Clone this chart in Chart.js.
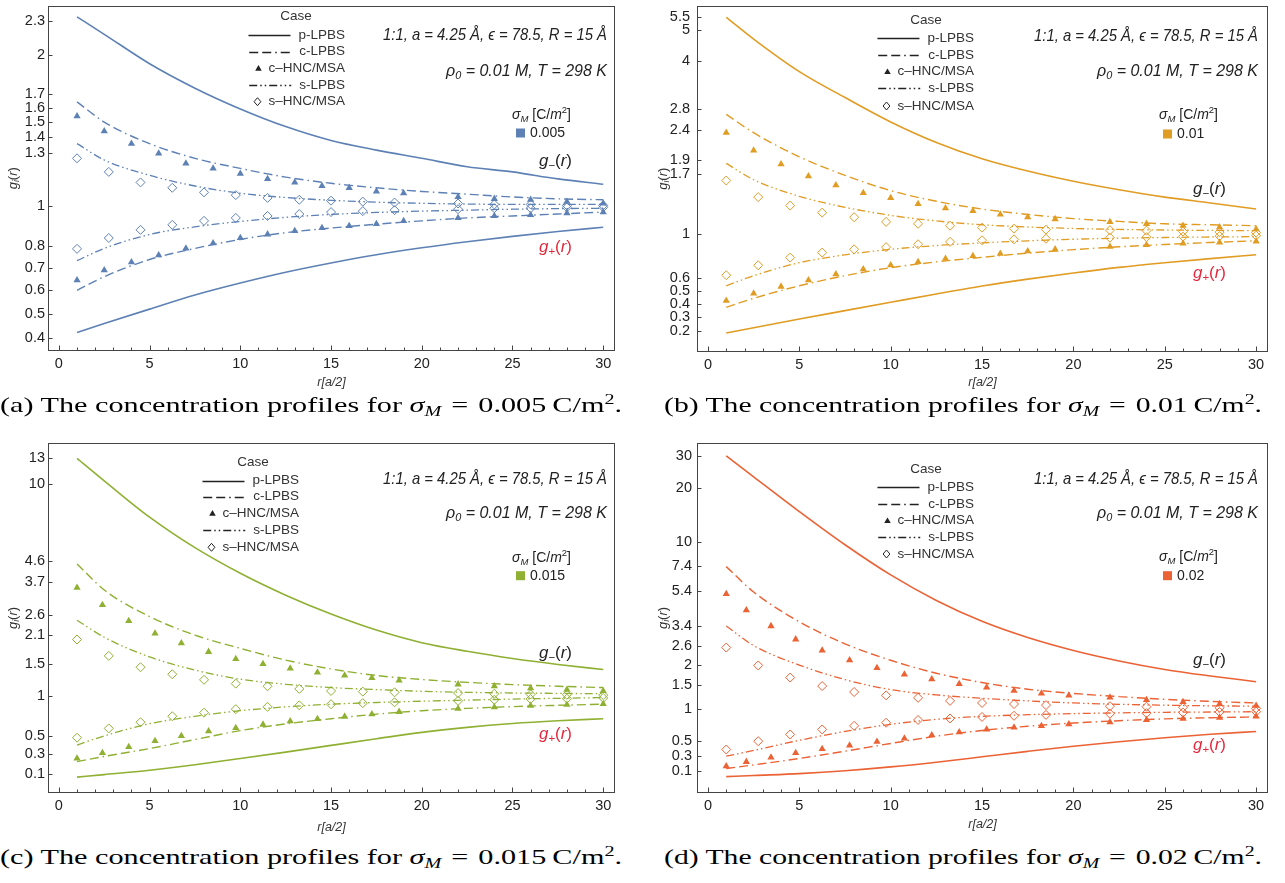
<!DOCTYPE html>
<html lang="en">
<head>
<meta charset="utf-8">
<title>Concentration profiles</title>
<script src="https://cdn.jsdelivr.net/npm/chart.js@4.4.1/dist/chart.umd.min.js"></script>
<style>
  html, body { margin: 0; padding: 0; background: #fff; }
  body { position: relative; width: 1285px; height: 883px; overflow: hidden; }
  canvas { position: absolute; }
  .cap { position: absolute; font-family: "Liberation Serif", "Times New Roman", serif; font-size: 21px; line-height: 24px;
         white-space: nowrap; color: #000; transform-origin: 0 50%; }
  .cap .m { font-style: italic; }
  .cap sub { font-size: 14px; line-height: 0; vertical-align: -4px; font-style: italic; }
  .cap sup { font-size: 14px; line-height: 0; vertical-align: 8px; }
</style>
</head>
<body>
<canvas id="panelA" width="640" height="400" style="left:0;top:0"></canvas>
<canvas id="panelB" width="645" height="400" style="left:640px;top:0"></canvas>
<canvas id="panelC" width="640" height="410" style="left:0;top:430px"></canvas>
<canvas id="panelD" width="645" height="410" style="left:640px;top:430px"></canvas>

<div class="cap" data-w="622" style="left:0;top:393px">(a) The concentration profiles for <span class="m">σ</span><sub>M</sub>&#8196;=&#8196;0.005&#8201;C/m<sup>2</sup>.</div>
<div class="cap" data-w="598" style="left:664px;top:393px">(b) The concentration profiles for <span class="m">σ</span><sub>M</sub>&#8196;=&#8196;0.01&#8201;C/m<sup>2</sup>.</div>
<div class="cap" data-w="622" style="left:0;top:845px">(c) The concentration profiles for <span class="m">σ</span><sub>M</sub>&#8196;=&#8196;0.015&#8201;C/m<sup>2</sup>.</div>
<div class="cap" data-w="598" style="left:664px;top:845px">(d) The concentration profiles for <span class="m">σ</span><sub>M</sub>&#8196;=&#8196;0.02&#8201;C/m<sup>2</sup>.</div>

<script>
// r positions (units of a/2) for the LPBS curves and the HNC/MSA samples
const rLine = [1, 2.5, 5, 7.5, 10, 12.5, 15, 17.5, 20, 22.5, 25, 27.5, 30];
const rTriAB = [1, 2.5, 4, 5.5, 7, 8.5, 10, 11.5, 13, 14.5, 16, 17.5, 19, 22, 24, 26, 28, 30];
const rTriC = [1, 2.4, 3.85, 5.3, 6.75, 8.25, 9.75, 11.25, 12.75, 14.25, 15.75, 17.25, 18.75, 22, 24, 26, 28, 30];
const rTriD = [1, 2.1, 3.45, 4.8, 6.25, 7.75, 9.25, 10.75, 12.25, 13.75, 15.25, 16.75, 18.25, 19.75, 22, 24, 26, 28, 30];
const rDia = [1, 2.75, 4.5, 6.25, 8, 9.75, 11.5, 13.25, 15, 16.75, 18.5, 22, 24, 26, 28, 30];
const xTicks = [0, 5, 10, 15, 20, 25, 30];

// sigma_M = 0.005 C/m^2
const yTicksA = [0.4, 0.5, 0.6, 0.7, 0.8, 1, 1.3, 1.4, 1.5, 1.6, 1.7, 2, 2.3];
const aPMinus = [2.34, 2.18, 1.93, 1.74, 1.59, 1.47, 1.38, 1.32, 1.27, 1.22, 1.19, 1.15, 1.12];
const aPPlus  = [0.424, 0.46, 0.52, 0.58, 0.632, 0.68, 0.722, 0.76, 0.793, 0.822, 0.848, 0.872, 0.893];
const aCMinus = [1.64, 1.50, 1.36, 1.27, 1.21, 1.16, 1.125, 1.10, 1.08, 1.065, 1.05, 1.04, 1.035];
const aCPlus  = [0.60, 0.66, 0.738, 0.79, 0.833, 0.866, 0.889, 0.908, 0.925, 0.94, 0.95, 0.96, 0.97];
const aSMinus = [1.36, 1.26, 1.17, 1.11, 1.07, 1.047, 1.032, 1.022, 1.016, 1.012, 1.01, 1.01, 1.01];
const aSPlus  = [0.733, 0.79, 0.857, 0.895, 0.922, 0.943, 0.958, 0.968, 0.975, 0.98, 0.985, 0.988, 0.99];
const aTriMinus = [1.54, 1.44, 1.36, 1.30, 1.24, 1.21, 1.18, 1.15, 1.13, 1.11, 1.10, 1.08, 1.07, 1.05, 1.04, 1.035, 1.025, 1.015];
const aTriPlus  = [0.645, 0.689, 0.726, 0.758, 0.79, 0.815, 0.84, 0.858, 0.875, 0.89, 0.90, 0.91, 0.925, 0.94, 0.95, 0.955, 0.965, 0.97];
const aDiaMinus = [1.27, 1.19, 1.13, 1.10, 1.075, 1.06, 1.045, 1.035, 1.03, 1.025, 1.02, 1.015, 1.01, 1.01, 1.005, 1.005];
const aDiaPlus  = [0.788, 0.84, 0.88, 0.905, 0.925, 0.94, 0.95, 0.96, 0.97, 0.975, 0.98, 0.985, 0.99, 0.99, 0.995, 0.995];

// sigma_M = 0.01 C/m^2
const yTicksB = [0.2, 0.3, 0.4, 0.5, 0.6, 1, 1.7, 1.9, 2.4, 2.8, 4, 5, 5.5];
const bPMinus = [5.47, 4.68, 3.70, 3.06, 2.55, 2.18, 1.92, 1.74, 1.60, 1.49, 1.40, 1.33, 1.26];
const bPPlus  = [0.184, 0.222, 0.285, 0.347, 0.41, 0.474, 0.536, 0.592, 0.643, 0.69, 0.73, 0.766, 0.80];
const bCMinus = [2.70, 2.35, 1.95, 1.68, 1.48, 1.35, 1.26, 1.20, 1.155, 1.125, 1.10, 1.09, 1.08];
const bCPlus  = [0.372, 0.44, 0.538, 0.62, 0.687, 0.737, 0.777, 0.815, 0.847, 0.873, 0.895, 0.914, 0.93];
const bSMinus = [1.85, 1.62, 1.41, 1.28, 1.19, 1.13, 1.09, 1.067, 1.052, 1.042, 1.036, 1.032, 1.03];
const bSPlus  = [0.538, 0.62, 0.73, 0.80, 0.85, 0.885, 0.91, 0.93, 0.945, 0.955, 0.962, 0.967, 0.97];
const bTriMinus = [2.35, 2.05, 1.84, 1.67, 1.55, 1.45, 1.39, 1.32, 1.27, 1.24, 1.20, 1.17, 1.15, 1.12, 1.10, 1.08, 1.065, 1.045];
const bTriPlus  = [0.422, 0.478, 0.532, 0.583, 0.632, 0.674, 0.708, 0.736, 0.765, 0.79, 0.81, 0.833, 0.85, 0.875, 0.89, 0.905, 0.915, 0.925];
const bDiaMinus = [1.61, 1.40, 1.30, 1.22, 1.17, 1.12, 1.10, 1.08, 1.06, 1.05, 1.04, 1.035, 1.03, 1.02, 1.015, 1.01];
const bDiaPlus  = [0.624, 0.708, 0.775, 0.82, 0.85, 0.87, 0.897, 0.92, 0.935, 0.944, 0.95, 0.96, 0.965, 0.97, 0.975, 0.98];

// sigma_M = 0.015 C/m^2
const yTicksC = [0.1, 0.3, 0.5, 1, 1.5, 2.1, 2.6, 3.7, 4.6, 10, 13];
const cPMinus = [12.9, 10.3, 7.15, 5.25, 4.04, 3.22, 2.64, 2.22, 1.93, 1.75, 1.61, 1.50, 1.41];
const cPPlus  = [0.07, 0.095, 0.139, 0.195, 0.258, 0.325, 0.396, 0.468, 0.54, 0.597, 0.642, 0.675, 0.70];
const cCMinus = [4.45, 3.4, 2.57, 2.1, 1.81, 1.58, 1.42, 1.31, 1.245, 1.2, 1.165, 1.14, 1.12];
const cCPlus  = [0.226, 0.28, 0.362, 0.46, 0.56, 0.638, 0.70, 0.757, 0.80, 0.83, 0.853, 0.87, 0.885];
const cSMinus = [2.47, 2.05, 1.64, 1.40, 1.25, 1.17, 1.12, 1.09, 1.065, 1.05, 1.04, 1.035, 1.03];
const cSPlus  = [0.40, 0.50, 0.64, 0.73, 0.80, 0.85, 0.885, 0.908, 0.925, 0.94, 0.955, 0.965, 0.975];
const cTriMinus = [3.48, 2.91, 2.45, 2.14, 1.92, 1.74, 1.60, 1.51, 1.43, 1.36, 1.31, 1.27, 1.23, 1.17, 1.14, 1.11, 1.09, 1.07];
const cTriPlus  = [0.26, 0.316, 0.38, 0.445, 0.50, 0.553, 0.591, 0.63, 0.67, 0.698, 0.727, 0.756, 0.786, 0.825, 0.845, 0.866, 0.88, 0.89];
const cDiaMinus = [2.00, 1.66, 1.45, 1.33, 1.24, 1.18, 1.14, 1.10, 1.07, 1.06, 1.05, 1.04, 1.03, 1.02, 1.015, 1.01];
const cDiaPlus  = [0.48, 0.585, 0.658, 0.731, 0.775, 0.82, 0.85, 0.87, 0.885, 0.90, 0.91, 0.93, 0.945, 0.955, 0.96, 0.97];

// sigma_M = 0.02 C/m^2
const yTicksD = [0.1, 0.3, 0.5, 1, 1.5, 2, 2.6, 3.4, 5.4, 7.4, 10, 20, 30];
const dPMinus = [30.0, 23.0, 14.8, 9.7, 6.6, 4.75, 3.62, 2.92, 2.45, 2.12, 1.88, 1.71, 1.57];
const dPPlus  = [0.03, 0.045, 0.069, 0.105, 0.154, 0.215, 0.285, 0.358, 0.428, 0.49, 0.548, 0.598, 0.64];
const dCMinus = [7.34, 5.3, 3.60, 2.68, 2.14, 1.78, 1.55, 1.40, 1.31, 1.245, 1.19, 1.15, 1.12];
const dCPlus  = [0.133, 0.18, 0.263, 0.36, 0.466, 0.57, 0.655, 0.72, 0.77, 0.808, 0.838, 0.857, 0.87];
const dSMinus = [3.40, 2.62, 2.00, 1.62, 1.39, 1.28, 1.21, 1.16, 1.12, 1.095, 1.078, 1.066, 1.06];
const dSPlus  = [0.293, 0.37, 0.51, 0.64, 0.75, 0.83, 0.88, 0.908, 0.927, 0.94, 0.95, 0.955, 0.96];
const dTriMinus = [5.17, 4.19, 3.40, 2.85, 2.45, 2.14, 1.92, 1.75, 1.63, 1.52, 1.44, 1.37, 1.31, 1.27, 1.23, 1.18, 1.14, 1.10, 1.07];
const dTriPlus  = [0.163, 0.22, 0.276, 0.338, 0.392, 0.44, 0.49, 0.536, 0.585, 0.63, 0.67, 0.70, 0.726, 0.753, 0.785, 0.82, 0.84, 0.86, 0.88];
const dDiaMinus = [2.55, 1.99, 1.67, 1.47, 1.34, 1.27, 1.22, 1.16, 1.12, 1.10, 1.08, 1.06, 1.05, 1.04, 1.03, 1.02];
const dDiaPlus  = [0.383, 0.498, 0.595, 0.67, 0.726, 0.775, 0.82, 0.845, 0.87, 0.89, 0.905, 0.925, 0.935, 0.945, 0.955, 0.96];

const FAMILY = '"Liberation Sans", Arial, sans-serif';
const dashC = [9, 4, 9, 4, 1.5, 4];          // long, long, dot
const dashS = [8, 3, 1.5, 3, 1.5, 3];        // dash, dot, dot

const caseRows = [
  { label: 'p-LPBS', kind: 'line', dash: [], width: 1.5 },
  { label: 'c-LPBS', kind: 'line', dash: dashC, width: 1.3 },
  { label: 'c–HNC/MSA', kind: 'triangle' },
  { label: 's-LPBS', kind: 'line', dash: dashS, width: 1.3 },
  { label: 's–HNC/MSA', kind: 'diamond' }
];

// y axis that behaves like log far from zero and linear near it
class AsinhScale extends Chart.Scale {
  determineDataLimits() {
    this.min = this.options.min;
    this.max = this.options.max;
  }
  buildTicks() { return []; }
  configure() {
    super.configure();
    this._aStart = Math.asinh(this.min);
    this._aSpan = Math.asinh(this.max) - this._aStart;
  }
  getLabelForValue(v) { return String(v); }
  getPixelForValue(v) {
    return this.getPixelForDecimal((Math.asinh(v) - this._aStart) / this._aSpan);
  }
  getValueForPixel(px) {
    return Math.sinh(this._aStart + this.getDecimalForPixel(px) * this._aSpan);
  }
}
AsinhScale.id = 'asinh';
AsinhScale.defaults = {};
Chart.register(AsinhScale);

// text made of runs: flags i = italic, b = subscript, p = superscript
function runs(ctx, parts, x, y, size, align, width) {
  const fontOf = f => (f.includes('i') ? 'italic ' : '') +
    ((f.includes('b') || f.includes('p')) ? size * 0.68 : size) + 'px ' + FAMILY;
  let total = 0;
  const ws = parts.map(([t, f]) => { ctx.font = fontOf(f); const m = ctx.measureText(t).width; total += m; return m; });
  const sx = width ? width / total : 1;
  const full = total * sx;
  const x0 = align === 'right' ? x - full : align === 'center' ? x - full / 2 : x;
  ctx.save();
  ctx.translate(x0, y);
  ctx.scale(sx, 1);
  ctx.textAlign = 'left';
  ctx.textBaseline = 'middle';
  let cx = 0;
  parts.forEach(([t, f], k) => {
    ctx.font = fontOf(f);
    const dy = f.includes('b') ? size * 0.3 : f.includes('p') ? -size * 0.32 : 0;
    ctx.fillText(t, cx, dy);
    cx += ws[k];
  });
  ctx.restore();
}

function triangle(ctx, x, y, r) {
  ctx.beginPath();
  ctx.moveTo(x, y - r);
  ctx.lineTo(x + r * 0.866, y + r * 0.5);
  ctx.lineTo(x - r * 0.866, y + r * 0.5);
  ctx.closePath();
  ctx.fill();
}

function diamond(ctx, x, y, r) {
  ctx.beginPath();
  ctx.moveTo(x, y - r);
  ctx.lineTo(x + r * 0.85, y);
  ctx.lineTo(x, y + r);
  ctx.lineTo(x - r * 0.85, y);
  ctx.closePath();
  ctx.stroke();
}

// frame, inward ticks, legend and the text labels inside each panel
function decor(p) {
  return {
    id: 'decor',
    afterDraw(chart) {
      const ctx = chart.ctx;
      const area = chart.chartArea;
      const xs = chart.scales.x, ys = chart.scales.y;
      const L = Math.round(area.left) + 0.5, T = Math.round(area.top) + 0.5;
      const R = Math.round(area.right) - 0.5, B = Math.round(area.bottom) - 0.5;
      ctx.save();
      ctx.strokeStyle = '#444';
      ctx.lineWidth = 1;
      ctx.setLineDash([]);
      ctx.strokeRect(L, T, R - L, B - T);
      ctx.beginPath();
      for (let v = 0; v <= 30; v++) {
        const px = Math.round(xs.getPixelForValue(v)) + 0.5;
        const len = v % 5 === 0 ? 5 : 3;
        ctx.moveTo(px, B); ctx.lineTo(px, B - len);
      }
      p.yTicks.forEach(v => {
        const py = Math.round(ys.getPixelForValue(v)) + 0.5;
        ctx.moveTo(L, py); ctx.lineTo(L + 4, py);
      });
      ctx.stroke();

      // y axis title
      ctx.fillStyle = '#333';
      ctx.save();
      ctx.translate(p.ann.yTitleX, (area.top + area.bottom) / 2);
      ctx.rotate(-Math.PI / 2);
      runs(ctx, [['g', 'i'], ['i', 'ib'], ['(', ''], ['r', 'i'], [')', '']], 0, 0, 13, 'center');
      ctx.restore();

      // legend of cases
      const lg = p.ann.legend;
      ctx.fillStyle = '#333';
      ctx.strokeStyle = '#222';
      ctx.font = '13.5px ' + FAMILY;
      ctx.textBaseline = 'middle';
      ctx.textAlign = 'center';
      ctx.fillText('Case', lg.caseX, lg.caseY);
      ctx.textAlign = 'right';
      caseRows.forEach((row, k) => {
        const y = lg.rows[k];
        ctx.font = '13.5px ' + FAMILY;
        ctx.fillStyle = '#333';
        ctx.fillText(row.label, lg.right, y);
        const left = lg.right - ctx.measureText(row.label).width;
        if (row.kind === 'line') {
          ctx.lineWidth = row.width;
          ctx.setLineDash(row.dash);
          ctx.beginPath();
          ctx.moveTo(left - 50, Math.round(y) + 0.5);
          ctx.lineTo(left - 8, Math.round(y) + 0.5);
          ctx.stroke();
          ctx.setLineDash([]);
        } else if (row.kind === 'triangle') {
          ctx.fillStyle = '#222';
          triangle(ctx, left - 10, y + 0.5, 3.8);
        } else {
          ctx.lineWidth = 1;
          diamond(ctx, left - 11, y, 4);
        }
      });

      // parameters
      ctx.fillStyle = '#222';
      const right = area.right - p.ann.paramInset;
      runs(ctx, [['1:1, a = 4.25 Å, ϵ = 78.5, R = 15 Å', 'i']], right, p.ann.paramY, 16.5, 'right', 224);
      runs(ctx, [['ρ', 'i'], ['0', 'ib'], [' = 0.01 M, T = 298 K', 'i']], right, p.ann.rhoY, 16.5, 'right', 161);

      // surface charge key
      const sg = p.ann.sigma;
      runs(ctx, [['σ', 'i'], ['M', 'ib'], [' [C/', ''], ['m', 'i'], ['2', 'p'], [']', '']], sg.left, sg.y, 14, 'left', 59);
      ctx.fillStyle = p.color;
      ctx.fillRect(sg.left + 4, sg.swY - 4.5, 9, 9);
      ctx.fillStyle = '#222';
      ctx.font = '14px ' + FAMILY;
      ctx.textAlign = 'left';
      ctx.textBaseline = 'middle';
      ctx.fillText(p.sigma, sg.left + 18, sg.swY);

      // branch labels
      runs(ctx, [['g', 'i'], ['−', 'b'], ['(', ''], ['r', 'i'], [')', '']], p.ann.gRight, p.ann.gMinusY, 16.5, 'right', 33);
      ctx.fillStyle = '#e3283c';
      runs(ctx, [['g', 'i'], ['+', 'b'], ['(', ''], ['r', 'i'], [')', '']], p.ann.gRight, p.ann.gPlusY, 16.5, 'right', 33);
      ctx.restore();
    }
  };
}

// keep the plot frame where the layout puts it, whatever the edge labels need
function noEdgePadding(sc) {
  sc.paddingTop = 0; sc.paddingBottom = 0;
  sc.paddingLeft = 0; sc.paddingRight = 0;
}

function drawPanel(p) {
  const curve = (ys, dash, width) => ({
    data: rLine.map((r, i) => ({ x: r, y: ys[i] })),
    showLine: true, borderColor: p.color, borderWidth: width, borderDash: dash,
    pointRadius: 0, cubicInterpolationMode: 'monotone', fill: false
  });
  const marks = (rs, ys, style) => ({
    data: rs.map((r, i) => ({ x: r, y: ys[i] })),
    showLine: false, pointStyle: style,
    pointRadius: style === 'triangle' ? 4.2 : 4.5,
    pointBackgroundColor: style === 'triangle' ? p.color : 'rgba(255,255,255,0)',
    pointBorderColor: p.color,
    pointBorderWidth: style === 'triangle' ? 0 : 1
  });
  const s = p.series;
  const tickFont = { family: FAMILY, size: 14.5 };

  new Chart(document.getElementById(p.id), {
    type: 'scatter',
    data: {
      datasets: [
        curve(s.pMinus, [], 1.6), curve(s.pPlus, [], 1.6),
        curve(s.cMinus, dashC, 1.4), curve(s.cPlus, dashC, 1.4),
        curve(s.sMinus, dashS, 1.3), curve(s.sPlus, dashS, 1.3),
        marks(p.rTri, s.triMinus, 'triangle'), marks(p.rTri, s.triPlus, 'triangle'),
        marks(rDia, s.diaMinus, 'rectRot'), marks(rDia, s.diaPlus, 'rectRot')
      ]
    },
    options: {
      responsive: false,
      animation: false,
      devicePixelRatio: 1,
      layout: { padding: { top: p.box.top, right: p.box.right, left: 0, bottom: 0 } },
      plugins: { legend: { display: false }, tooltip: { enabled: false } },
      scales: {
        x: {
          type: 'linear', min: -0.6, max: 30.65,
          afterBuildTicks: sc => { sc.ticks = xTicks.map(v => ({ value: v })); },
          afterFit: sc => { sc.height = p.box.xHeight; noEdgePadding(sc); },
          grid: { display: false, drawTicks: false },
          border: { display: false },
          ticks: { padding: 4, color: '#222', font: tickFont, maxRotation: 0 },
          title: {
            display: true, text: 'r[a/2]', color: '#333',
            font: { family: FAMILY, size: 12.5, style: 'italic' },
            padding: { top: 0, bottom: p.box.titlePad }
          }
        },
        y: {
          type: 'asinh', min: p.yMin, max: p.yMax,
          afterBuildTicks: sc => { sc.ticks = p.yTicks.map(v => ({ value: v })); },
          afterFit: sc => { sc.width = p.box.left; noEdgePadding(sc); },
          grid: { display: false, drawTicks: false },
          border: { display: false },
          ticks: { autoSkip: false, padding: p.box.labelPad, color: '#222', font: tickFont, callback: v => String(v) }
        }
      }
    },
    plugins: [decor(p)]
  });
}

const panels = [
  {
    id: 'panelA', sigma: '0.005', color: '#5e81b5',
    yMin: 0.35, yMax: 2.45, yTicks: yTicksA, rTri: rTriAB,
    series: { pMinus: aPMinus, pPlus: aPPlus, cMinus: aCMinus, cPlus: aCPlus, sMinus: aSMinus, sPlus: aSPlus,
              triMinus: aTriMinus, triPlus: aTriPlus, diaMinus: aDiaMinus, diaPlus: aDiaPlus },
    box: { top: 2, right: 25, left: 48, xHeight: 49, titlePad: 10, labelPad: 3 },
    ann: { yTitleX: 13, legend: { right: 345, caseX: 296, caseY: 16, rows: [35, 51.7, 68.3, 85, 101.7] },
           paramInset: 8, paramY: 35, rhoY: 71, sigma: { left: 512, y: 115, swY: 133 },
           gRight: 572, gMinusY: 161, gPlusY: 247 }
  },
  {
    id: 'panelB', sigma: '0.01', color: '#e19c24',
    yMin: 0.05, yMax: 5.95, yTicks: yTicksB, rTri: rTriAB,
    series: { pMinus: bPMinus, pPlus: bPPlus, cMinus: bCMinus, cPlus: bCPlus, sMinus: bSMinus, sPlus: bSPlus,
              triMinus: bTriMinus, triPlus: bTriPlus, diaMinus: bDiaMinus, diaPlus: bDiaPlus },
    box: { top: 2, right: 17, left: 57, xHeight: 48, titlePad: 10, labelPad: 7 },
    ann: { yTitleX: 23, legend: { right: 334, caseX: 286, caseY: 20.7, rows: [38.3, 55, 71.7, 88.3, 106] },
           paramInset: 10, paramY: 36, rhoY: 71, sigma: { left: 519, y: 115, swY: 134 },
           gRight: 586, gMinusY: 189, gPlusY: 273 }
  },
  {
    id: 'panelC', sigma: '0.015', color: '#8fb032',
    yMin: -0.089, yMax: 15.05, yTicks: yTicksC, rTri: rTriC,
    series: { pMinus: cPMinus, pPlus: cPPlus, cMinus: cCMinus, cPlus: cCPlus, sMinus: cSMinus, sPlus: cSPlus,
              triMinus: cTriMinus, triPlus: cTriPlus, diaMinus: cDiaMinus, diaPlus: cDiaPlus },
    box: { top: 13, right: 25, left: 48, xHeight: 47, titlePad: 5, labelPad: 3 },
    ann: { yTitleX: 13, legend: { right: 299, caseX: 253, caseY: 32.3, rows: [50.7, 66.7, 83.3, 100, 117.3] },
           paramInset: 8, paramY: 49.3, rhoY: 83.3, sigma: { left: 512, y: 127.7, swY: 145.7 },
           gRight: 572, gMinusY: 223, gPlusY: 304 }
  },
  {
    id: 'panelD', sigma: '0.02', color: '#eb6235',
    yMin: -0.178, yMax: 35.3, yTicks: yTicksD, rTri: rTriD,
    series: { pMinus: dPMinus, pPlus: dPPlus, cMinus: dCMinus, cPlus: dCPlus, sMinus: dSMinus, sPlus: dSPlus,
              triMinus: dTriMinus, triPlus: dTriPlus, diaMinus: dDiaMinus, diaPlus: dDiaPlus },
    box: { top: 13, right: 17, left: 57, xHeight: 47, titlePad: 8, labelPad: 5 },
    ann: { yTitleX: 23, legend: { right: 334, caseX: 286, caseY: 39.3, rows: [57.3, 74, 90.7, 107.3, 124] },
           paramInset: 10, paramY: 49.3, rhoY: 83.3, sigma: { left: 519, y: 126.7, swY: 145.7 },
           gRight: 586, gMinusY: 230, gPlusY: 315 }
  }
];

panels.forEach(drawPanel);

// stretch each caption across its column
document.querySelectorAll('.cap').forEach(el => {
  const target = +el.dataset.w;
  const w = el.getBoundingClientRect().width;
  el.style.transform = 'scaleX(' + (target / w).toFixed(4) + ')';
});
</script>
</body>
</html>
